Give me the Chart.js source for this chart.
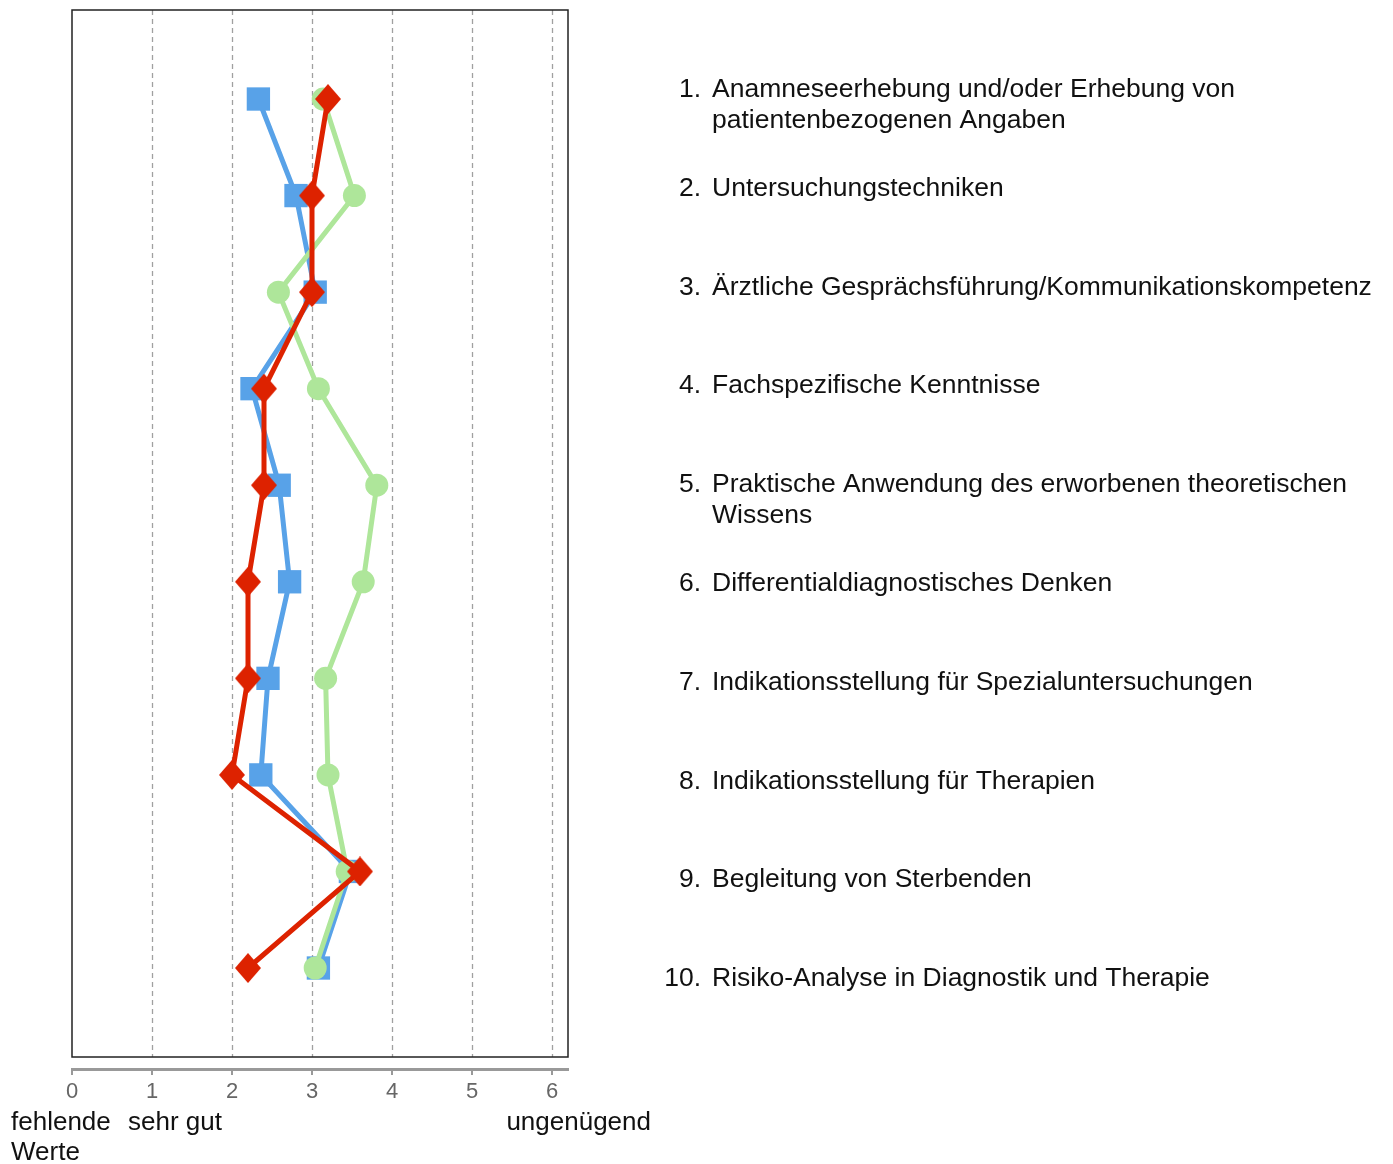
<!DOCTYPE html>
<html>
<head>
<meta charset="utf-8">
<script src="https://cdn.jsdelivr.net/npm/chart.js@4"></script>
<style>
  html, body { margin: 0; padding: 0; background: #fff; }
  canvas { display: block; }
</style>
</head>
<body>
<canvas id="myChart" width="1393" height="1164"></canvas>
<script>
// rows top to bottom, 1..10
const categories = [
  ["Anamneseerhebung und/oder Erhebung von", "patientenbezogenen Angaben"],
  ["Untersuchungstechniken"],
  ["Ärztliche Gesprächsführung/Kommunikationskompetenz"],
  ["Fachspezifische Kenntnisse"],
  ["Praktische Anwendung des erworbenen theoretischen", "Wissens"],
  ["Differentialdiagnostisches Denken"],
  ["Indikationsstellung für Spezialuntersuchungen"],
  ["Indikationsstellung für Therapien"],
  ["Begleitung von Sterbenden"],
  ["Risiko-Analyse in Diagnostik und Therapie"]
];
const blueValues = [2.33, 2.8, 3.04, 2.25, 2.59, 2.72, 2.45, 2.36, 3.48, 3.08];
const greenValues = [3.14, 3.53, 2.58, 3.08, 3.81, 3.64, 3.17, 3.2, 3.44, 3.04];
const redValues = [3.2, 3.0, 3.0, 2.4, 2.4, 2.2, 2.2, 2.0, 3.6, 2.2];
const xTicks = [0, 1, 2, 3, 4, 5, 6];
const scaleLabels = [["fehlende", "Werte"], ["sehr gut"], ["ungenügend"]];

const toPoints = (vals) => vals.map((v, i) => ({ x: v, y: i + 1 }));

// diamond marker, a bit taller than wide
const diamond = document.createElement("canvas");
diamond.width = 26;
diamond.height = 30;
(function () {
  const c = diamond.getContext("2d");
  c.fillStyle = "#dd2200";
  c.beginPath();
  c.moveTo(13, 0);
  c.lineTo(26, 15);
  c.lineTo(13, 30);
  c.lineTo(0, 15);
  c.closePath();
  c.fill();
})();

const BOX_GAP = 12;

const decor = {
  id: "decor",
  beforeDatasetsDraw(chart) {
    const { ctx, chartArea } = chart;
    const xs = chart.scales.x;
    const bottom = chartArea.bottom - BOX_GAP;
    ctx.save();
    ctx.strokeStyle = "#a0a0a0";
    ctx.lineWidth = 1.3;
    ctx.setLineDash([5, 4]);
    xTicks.slice(1).forEach((t) => {
      const px = Math.round(xs.getPixelForValue(t)) + 0.5;
      ctx.beginPath();
      ctx.moveTo(px, chartArea.top);
      ctx.lineTo(px, bottom);
      ctx.stroke();
    });
    ctx.restore();
  },
  afterDatasetsDraw(chart) {
    const { ctx, chartArea } = chart;
    const ys = chart.scales.y;
    const bottom = chartArea.bottom - BOX_GAP;
    ctx.save();
    ctx.strokeStyle = "#222";
    ctx.lineWidth = 1.5;
    ctx.strokeRect(chartArea.left, chartArea.top, chartArea.right - chartArea.left, bottom - chartArea.top);

    // category list on the right
    ctx.fillStyle = "#111";
    ctx.font = "26.5px 'Liberation Sans', Arial, sans-serif";
    ctx.textBaseline = "alphabetic";
    const y0 = ys.getPixelForValue(1) - 2;
    categories.forEach((lines, i) => {
      const by = y0 + i * 98.8;
      ctx.textAlign = "right";
      ctx.fillText((i + 1) + ".", 701, by);
      ctx.textAlign = "left";
      lines.forEach((ln, j) => ctx.fillText(ln, 712, by + j * 31));
    });

    // scale anchors under the axis
    ctx.font = "26px 'Liberation Sans', Arial, sans-serif";
    ctx.textAlign = "left";
    ctx.fillText(scaleLabels[0][0], 11, 1130);
    ctx.fillText(scaleLabels[0][1], 11, 1160);
    ctx.fillText(scaleLabels[1][0], 128, 1130);
    ctx.textAlign = "right";
    ctx.fillText(scaleLabels[2][0], 651, 1130);
    ctx.restore();
  }
};

const ctx = document.getElementById("myChart").getContext("2d");
new Chart(ctx, {
  type: "scatter",
  data: {
    datasets: [
      {
        label: "rot",
        data: toPoints(redValues),
        showLine: true,
        borderColor: "#dd2200",
        backgroundColor: "#dd2200",
        borderWidth: 5,
        pointStyle: diamond,
        order: 0
      },
      {
        label: "grün",
        data: toPoints(greenValues),
        showLine: true,
        borderColor: "#aee69a",
        backgroundColor: "#aee69a",
        borderWidth: 5,
        pointStyle: "circle",
        pointRadius: 11.5,
        pointBorderWidth: 0,
        order: 1
      },
      {
        label: "blau",
        data: toPoints(blueValues),
        showLine: true,
        borderColor: "#58a2e8",
        backgroundColor: "#58a2e8",
        borderWidth: 5,
        pointStyle: "rect",
        pointRadius: 16.5,
        pointBorderWidth: 0,
        order: 2
      }
    ]
  },
  options: {
    responsive: false,
    animation: false,
    events: [],
    layout: { autoPadding: false, padding: { left: 72, right: 825, top: 10, bottom: 0 } },
    plugins: { legend: { display: false }, tooltip: { enabled: false } },
    scales: {
      x: {
        type: "linear",
        min: 0,
        max: 6.2,
        afterBuildTicks: (s) => { s.ticks = xTicks.map((v) => ({ value: v })); },
        afterFit: (s) => { s.height = 95; },
        grid: { display: true, drawOnChartArea: false, drawTicks: true, tickLength: 6, color: "#999", lineWidth: 2 },
        border: { display: true, color: "#999", width: 3 },
        ticks: { color: "#666", padding: 4, font: { family: "'Liberation Sans', Arial, sans-serif", size: 22 } }
      },
      y: {
        type: "linear",
        display: false,
        reverse: true,
        min: 0.078,
        max: 11.046
      }
    }
  },
  plugins: [decor]
});
</script>
</body>
</html>
